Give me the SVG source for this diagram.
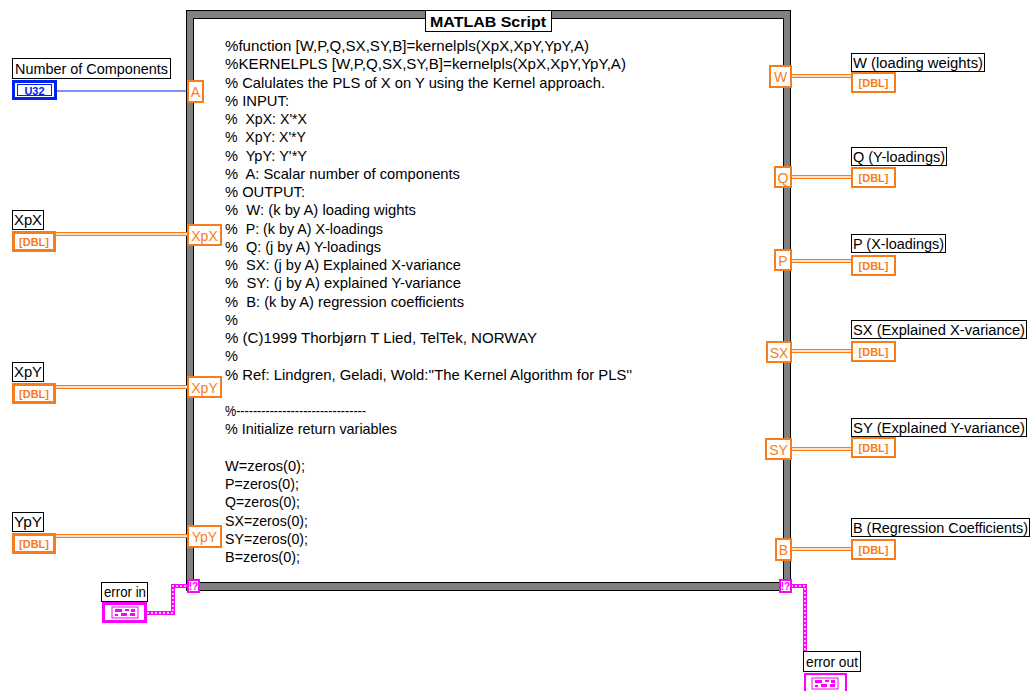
<svg xmlns="http://www.w3.org/2000/svg" width="1032" height="691" viewBox="0 0 1032 691">
<style>
text{font-family:"Liberation Sans",Arial,sans-serif;}
.lb{fill:#fff;stroke:#000;stroke-width:1;}
.lt{font-size:14px;fill:#000;}
.ctl{fill:#fff;stroke:#f87c1a;stroke-width:3;}
.ind{fill:#fff;stroke:#f87c1a;stroke-width:2;}
.dbl{font-size:11px;font-weight:bold;fill:#f87c1a;text-anchor:middle;}
.tun{fill:#fff;stroke:#f87c1a;stroke-width:2;}
.tunt{font-size:14px;fill:#f87c1a;text-anchor:middle;}
.wo{fill:none;stroke:#f87c1a;stroke-width:4;}
.wi{fill:none;stroke:#fff;stroke-width:1.3;}
.eo{fill:none;stroke:#ff00ff;stroke-width:4;}
.ei{fill:none;stroke:#fff;stroke-width:1.4;stroke-dasharray:2 2;}
.err{fill:#fff;stroke:#ff00ff;stroke-width:3;}
.etun{fill:#fff;stroke:#ff00ff;stroke-width:2;}
.ico{fill:none;stroke:#ff00ff;stroke-width:1;}
.icf{fill:#ff00ff;}
.code{font-size:14.5px;fill:#000;white-space:pre;}
</style>

<g id="frame">
  <rect x="186.5" y="10.5" width="604" height="580" fill="#808080" stroke="#000"/>
  <rect x="193.5" y="18.5" width="590" height="564" fill="#fff" stroke="#000"/>
  <rect x="425.5" y="10.5" width="126" height="21" fill="#fff" stroke="#000"/>
  <text x="488" y="27" font-size="15" font-weight="bold" text-anchor="middle" textLength="116" lengthAdjust="spacingAndGlyphs">MATLAB Script</text>
</g>

<g id="script">
  <text class="code" x="225" y="51" textLength="364" lengthAdjust="spacingAndGlyphs">%function [W,P,Q,SX,SY,B]=kernelpls(XpX,XpY,YpY,A)</text>
  <text class="code" x="225" y="69.25" textLength="401" lengthAdjust="spacingAndGlyphs">%KERNELPLS [W,P,Q,SX,SY,B]=kernelpls(XpX,XpY,YpY,A)</text>
  <text class="code" x="225" y="87.5" textLength="380" lengthAdjust="spacingAndGlyphs">% Calulates the PLS of X on Y using the Kernel approach.</text>
  <text class="code" x="225" y="105.75" textLength="64" lengthAdjust="spacingAndGlyphs">% INPUT:</text>
  <text class="code" x="225" y="124" textLength="82" lengthAdjust="spacingAndGlyphs">%  XpX: X'*X</text>
  <text class="code" x="225" y="142.25" textLength="81" lengthAdjust="spacingAndGlyphs">%  XpY: X'*Y</text>
  <text class="code" x="225" y="160.5" textLength="82" lengthAdjust="spacingAndGlyphs">%  YpY: Y'*Y</text>
  <text class="code" x="225" y="178.75" textLength="235" lengthAdjust="spacingAndGlyphs">%  A: Scalar number of components</text>
  <text class="code" x="225" y="197" textLength="80" lengthAdjust="spacingAndGlyphs">% OUTPUT:</text>
  <text class="code" x="225" y="215.25" textLength="191" lengthAdjust="spacingAndGlyphs">%  W: (k by A) loading wights</text>
  <text class="code" x="225" y="233.5" textLength="158" lengthAdjust="spacingAndGlyphs">%  P: (k by A) X-loadings</text>
  <text class="code" x="225" y="251.75" textLength="156" lengthAdjust="spacingAndGlyphs">%  Q: (j by A) Y-loadings</text>
  <text class="code" x="225" y="270" textLength="236" lengthAdjust="spacingAndGlyphs">%  SX: (j by A) Explained X-variance</text>
  <text class="code" x="225" y="288.25" textLength="236" lengthAdjust="spacingAndGlyphs">%  SY: (j by A) explained Y-variance</text>
  <text class="code" x="225" y="306.5" textLength="239" lengthAdjust="spacingAndGlyphs">%  B: (k by A) regression coefficients</text>
  <text class="code" x="225" y="324.75">%</text>
  <text class="code" x="225" y="343" textLength="312" lengthAdjust="spacingAndGlyphs">% (C)1999 Thorbjørn T Lied, TelTek, NORWAY</text>
  <text class="code" x="225" y="361.25">%</text>
  <text class="code" x="225" y="379.5" textLength="407" lengthAdjust="spacingAndGlyphs">% Ref: Lindgren, Geladi, Wold:''The Kernel Algorithm for PLS''</text>
  <text class="code" x="225" y="416" textLength="141" lengthAdjust="spacingAndGlyphs">%-------------------------------</text>
  <text class="code" x="225" y="434.25" textLength="172" lengthAdjust="spacingAndGlyphs">% Initialize return variables</text>
  <text class="code" x="225" y="470.75" textLength="80" lengthAdjust="spacingAndGlyphs">W=zeros(0);</text>
  <text class="code" x="225" y="489" textLength="74" lengthAdjust="spacingAndGlyphs">P=zeros(0);</text>
  <text class="code" x="225" y="507.25" textLength="75" lengthAdjust="spacingAndGlyphs">Q=zeros(0);</text>
  <text class="code" x="225" y="525.5" textLength="83" lengthAdjust="spacingAndGlyphs">SX=zeros(0);</text>
  <text class="code" x="225" y="543.75" textLength="83" lengthAdjust="spacingAndGlyphs">SY=zeros(0);</text>
  <text class="code" x="225" y="562" textLength="75" lengthAdjust="spacingAndGlyphs">B=zeros(0);</text>
</g>

<g id="connectors">
  <path d="M56,91 H187" fill="none" stroke="#0022ee" stroke-width="1.2"/>
  <path class="wo" d="M56,234 H187 M56,387 H187 M56,536 H187 M791,76 H851 M791,177 H851 M791,261 H851 M791,351 H851 M791,449 H851 M791,549 H851"/>
  <path class="wi" d="M56,234 H187 M56,387 H187 M56,536 H187 M791,76 H851 M791,177 H851 M791,261 H851 M791,351 H851 M791,449 H851 M791,549 H851"/>
  <path class="eo" d="M147,613 H173 V586 H187"/>
  <path class="ei" d="M147,613 H173 V586 H187"/>
  <path class="eo" d="M791,586 H805 V651"/>
  <path class="ei" d="M791,586 H805 V651"/>
</g>

<g id="tunnels">
  <rect class="tun" x="188" y="81" width="15" height="21"/><text class="tunt" x="195.5" y="97">A</text>
  <rect class="tun" x="188" y="225" width="33" height="20"/><text class="tunt" x="204.5" y="241">XpX</text>
  <rect class="tun" x="188" y="377" width="33" height="20"/><text class="tunt" x="204.5" y="393">XpY</text>
  <rect class="tun" x="188" y="526" width="33" height="21"/><text class="tunt" x="204.5" y="542">YpY</text>
  <rect class="tun" x="770" y="66" width="21" height="21"/><text class="tunt" x="780.5" y="82">W</text>
  <rect class="tun" x="775" y="167" width="16" height="20"/><text class="tunt" x="783" y="183">Q</text>
  <rect class="tun" x="775" y="250" width="16" height="20"/><text class="tunt" x="783" y="266">P</text>
  <rect class="tun" x="767" y="342" width="24" height="20"/><text class="tunt" x="779" y="358">SX</text>
  <rect class="tun" x="766" y="439" width="25" height="20"/><text class="tunt" x="778.5" y="455">SY</text>
  <rect class="tun" x="776" y="539" width="15" height="21"/><text class="tunt" x="783.5" y="555">B</text>
  <rect class="etun" x="188" y="580" width="11" height="12"/><text x="193.5" y="590" font-size="10" font-weight="bold" fill="#ff00ff" text-anchor="middle">!?</text>
  <rect class="etun" x="780" y="580" width="11" height="12"/><text x="785.5" y="590" font-size="10" font-weight="bold" fill="#ff00ff" text-anchor="middle">!?</text>
</g>

<g id="n-components">
  <rect class="lb" x="12.5" y="58.5" width="158" height="20"/>
  <text class="lt" x="15" y="74" textLength="153" lengthAdjust="spacingAndGlyphs">Number of Components</text>
  <rect x="13.5" y="81.5" width="42" height="17" fill="#fff" stroke="#0022ee" stroke-width="3"/>
  <rect x="17.5" y="84.5" width="34" height="11" fill="none" stroke="#0022ee" stroke-width="1"/>
  <text x="34.5" y="94.5" font-size="11" font-weight="bold" fill="#0022ee" text-anchor="middle">U32</text>
</g>

<g id="in-XpX">
  <rect class="lb" x="12.5" y="210.5" width="31" height="19"/>
  <text class="lt" x="14" y="225" textLength="28" lengthAdjust="spacingAndGlyphs">XpX</text>
  <rect class="ctl" x="13.5" y="232.5" width="41" height="18"/>
  <text class="dbl" x="34" y="245.5">[DBL]</text>
</g>

<g id="in-XpY">
  <rect class="lb" x="12.5" y="362.5" width="31" height="19"/>
  <text class="lt" x="14" y="377" textLength="28" lengthAdjust="spacingAndGlyphs">XpY</text>
  <rect class="ctl" x="13.5" y="384.5" width="41" height="18"/>
  <text class="dbl" x="34" y="397.5">[DBL]</text>
</g>

<g id="in-YpY">
  <rect class="lb" x="12.5" y="512.5" width="31" height="19"/>
  <text class="lt" x="14" y="527" textLength="28" lengthAdjust="spacingAndGlyphs">YpY</text>
  <rect class="ctl" x="13.5" y="534.5" width="41" height="18"/>
  <text class="dbl" x="34" y="547.5">[DBL]</text>
</g>

<g id="error-in">
  <rect class="lb" x="101.5" y="582.5" width="46" height="19"/>
  <text class="lt" x="104" y="597" textLength="42" lengthAdjust="spacingAndGlyphs">error in</text>
  <rect class="err" x="103.5" y="603.5" width="42" height="18"/>
  <rect class="ico" x="112" y="607" width="26" height="11"/>
  <rect class="icf" x="115" y="609" width="7" height="3"/>
  <rect class="icf" x="125" y="609" width="4" height="2"/>
  <rect class="icf" x="131" y="609" width="4" height="3"/>
  <rect class="icf" x="115" y="614" width="3" height="2"/>
  <rect class="icf" x="121" y="613" width="6" height="3"/>
  <rect class="icf" x="130" y="613" width="5" height="3"/>
</g>

<g id="out-W">
  <rect class="lb" x="851.5" y="53.5" width="133" height="18"/>
  <text class="lt" x="853" y="68" textLength="130" lengthAdjust="spacingAndGlyphs">W (loading weights)</text>
  <rect class="ind" x="852" y="73" width="43" height="19"/>
  <text class="dbl" x="873.5" y="86.5">[DBL]</text>
</g>

<g id="out-Q">
  <rect class="lb" x="851.5" y="147.5" width="95" height="18"/>
  <text class="lt" x="853" y="162" textLength="92" lengthAdjust="spacingAndGlyphs">Q (Y-loadings)</text>
  <rect class="ind" x="852" y="168" width="43" height="19"/>
  <text class="dbl" x="873.5" y="181.5">[DBL]</text>
</g>

<g id="out-P">
  <rect class="lb" x="851.5" y="234.5" width="94" height="18"/>
  <text class="lt" x="853" y="249" textLength="91" lengthAdjust="spacingAndGlyphs">P (X-loadings)</text>
  <rect class="ind" x="852" y="256" width="43" height="19"/>
  <text class="dbl" x="873.5" y="269.5">[DBL]</text>
</g>

<g id="out-SX">
  <rect class="lb" x="851.5" y="320.5" width="175" height="18"/>
  <text class="lt" x="853" y="335" textLength="172" lengthAdjust="spacingAndGlyphs">SX (Explained X-variance)</text>
  <rect class="ind" x="852" y="342" width="43" height="19"/>
  <text class="dbl" x="873.5" y="355.5">[DBL]</text>
</g>

<g id="out-SY">
  <rect class="lb" x="851.5" y="418.5" width="175" height="18"/>
  <text class="lt" x="853" y="433" textLength="172" lengthAdjust="spacingAndGlyphs">SY (Explained Y-variance)</text>
  <rect class="ind" x="852" y="438" width="43" height="19"/>
  <text class="dbl" x="873.5" y="451.5">[DBL]</text>
</g>

<g id="out-B">
  <rect class="lb" x="851.5" y="518.5" width="178" height="18"/>
  <text class="lt" x="853" y="533" textLength="175" lengthAdjust="spacingAndGlyphs">B (Regression Coefficients)</text>
  <rect class="ind" x="852" y="540" width="43" height="19"/>
  <text class="dbl" x="873.5" y="553.5">[DBL]</text>
</g>

<g id="error-out">
  <rect class="lb" x="803.5" y="651.5" width="57" height="20"/>
  <text class="lt" x="806" y="667" textLength="52" lengthAdjust="spacingAndGlyphs">error out</text>
  <rect x="805" y="674" width="41" height="20" fill="#fff" stroke="#ff00ff" stroke-width="2"/>
  <rect class="ico" x="812" y="678" width="26" height="11"/>
  <rect class="icf" x="815" y="680" width="7" height="3"/>
  <rect class="icf" x="825" y="680" width="4" height="2"/>
  <rect class="icf" x="831" y="680" width="4" height="3"/>
  <rect class="icf" x="815" y="685" width="3" height="2"/>
  <rect class="icf" x="821" y="684" width="6" height="3"/>
  <rect class="icf" x="830" y="684" width="5" height="3"/>
</g>
</svg>
